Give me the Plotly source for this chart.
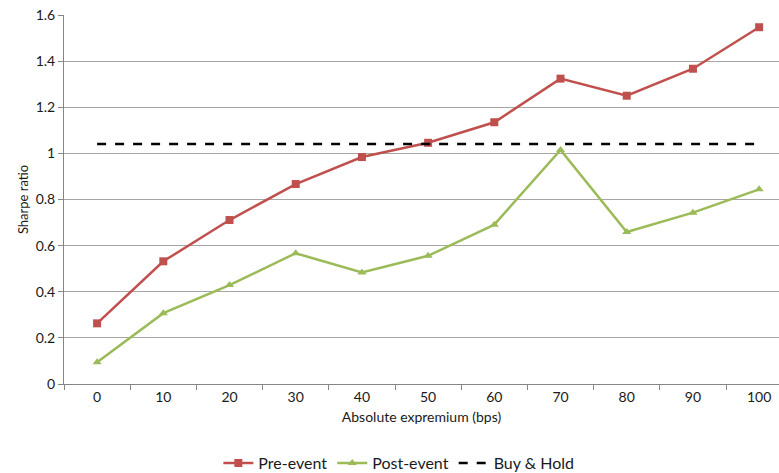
import plotly.graph_objects as go

# Absolute expremium thresholds (bps) and Sharpe ratios
categories = ["0", "10", "20", "30", "40", "50", "60", "70", "80", "90", "100"]
pre_event = [0.263, 0.532, 0.711, 0.867, 0.984, 1.046, 1.135, 1.324, 1.250, 1.367, 1.547]
post_event = [0.094, 0.307, 0.429, 0.567, 0.484, 0.556, 0.691, 1.015, 0.659, 0.743, 0.844]
buy_hold = [1.041] * len(categories)
y_ticks = [0, 0.2, 0.4, 0.6, 0.8, 1, 1.2, 1.4, 1.6]

FONT = "Lato, sans-serif"

fig = go.Figure()
fig.add_trace(go.Scatter(
    x=categories, y=pre_event, name="Pre-event", mode="lines+markers",
    line=dict(color="#C0504D", width=2.5),
    marker=dict(symbol="square", size=8, color="#C0504D"),
))
fig.add_trace(go.Scatter(
    x=categories, y=post_event, name="Post-event", mode="lines+markers",
    line=dict(color="#9BBB59", width=2.5),
    marker=dict(symbol="triangle-up", size=8, color="#9BBB59"),
))
fig.add_trace(go.Scatter(
    x=categories, y=buy_hold, name="Buy & Hold", mode="lines",
    line=dict(color="#000000", width=2.5, dash="dash"),
))

fig.update_layout(
    width=779, height=473,
    margin=dict(l=64, r=0, t=15, b=89),
    paper_bgcolor="white", plot_bgcolor="white",
    font=dict(family=FONT, size=14, color="#1a1a1a"),
    showlegend=True,
    legend=dict(orientation="h", xref="container", yref="container",
                x=0.512, xanchor="center", y=0.021, yanchor="middle",
                font=dict(size=16), itemwidth=30, traceorder="normal"),
    xaxis=dict(
        # the plot area runs slightly past the right edge of the page
        type="category", range=[-0.5, 10.3], automargin=False,
        showgrid=False, showline=True, linecolor="#868686", linewidth=1,
        ticks="outside", tickson="boundaries", ticklen=5, tickcolor="#868686",
        tickfont=dict(size=14),
        title=dict(text="Absolute expremium (bps)", font=dict(size=14), standoff=8),
    ),
    yaxis=dict(
        range=[0, 1.6], tickvals=y_ticks, ticktext=[f"{v:g}" for v in y_ticks],
        automargin=False,
        showgrid=True, gridcolor="#A6A6A6", gridwidth=1,
        showline=True, linecolor="#868686", linewidth=1,
        ticks="outside", ticklen=5, tickcolor="#868686",
        tickfont=dict(size=14), zeroline=False,
        title=dict(text="Sharpe ratio", font=dict(size=13), standoff=4),
    ),
)

fig.write_html("out.html")
